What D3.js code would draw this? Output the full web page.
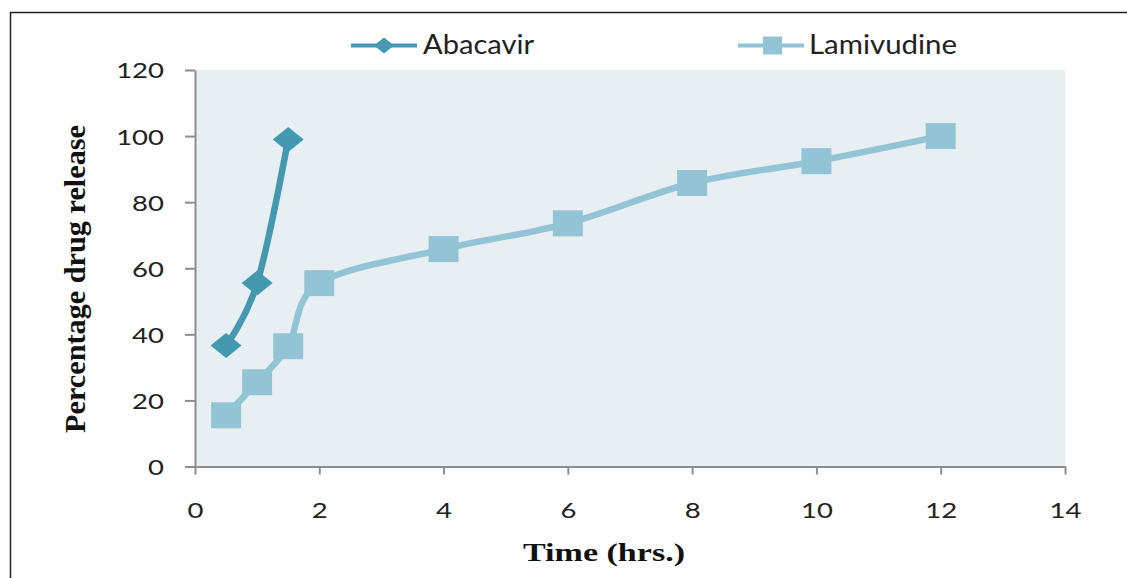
<!DOCTYPE html>
<html lang="en">
    <head>
        <title>Percentage drug release</title>
        <meta charset="utf-8">
        <script src="https://d3js.org/d3.v7.min.js"></script>
        <style>
            * {
                margin: 0;
                padding: 0;
            }
            body {
                background-color: white;
                width: 1127px;
                height: 578px;
                overflow: hidden;
            }
        </style>
    </head>
    <body>
        <main></main>
        <script>

            // values
            const abacavirTime = [0.5, 1, 1.5];
            const abacavirRelease = [36.6, 55.5, 99];

            const lamivudineTime = [0.5, 1, 1.5, 2, 4, 6, 8, 10, 12];
            const lamivudineRelease = [15.5, 25.5, 36.4, 55.5, 65.8, 73.6, 85.8, 92.4, 100];

            const xTicks = [0, 2, 4, 6, 8, 10, 12, 14];
            const yTicks = [0, 20, 40, 60, 80, 100, 120];

            const seriesNames = ["Abacavir", "Lamivudine"];

            const w = 1127;
            const h = 578;

            const darkTeal = "#4499b1";
            const lightTeal = "#93c4d6";
            const stretch = 1.25;

            const xScale = d3.scaleLinear()
                .domain([0, 14])
                .range([195, 1065]);

            const yScale = d3.scaleLinear()
                .domain([0, 120])
                .range([466.5, 70]);

            const svg = d3.select("main")
                .append("svg")
                .attr("width", w)
                .attr("height", h);

            // outer frame (top and left edges only show)
            svg.append("path")
                .attr("d", `M10.5,${h} V12.5 H${w}`)
                .attr("fill", "none")
                .attr("stroke", "#222")
                .attr("stroke-width", 1.5);

            // plot area
            svg.append("rect")
                .attr("x", xScale(0))
                .attr("y", yScale(120))
                .attr("width", xScale(14) - xScale(0))
                .attr("height", yScale(0) - yScale(120))
                .attr("fill", "#e8eff3");

            const xAxis = d3.axisBottom(xScale)
                .tickValues(xTicks)
                .tickSize(8)
                .tickSizeOuter(0);

            const gx = svg.append("g")
                .attr("transform", `translate(0, ${yScale(0)})`)
                .call(xAxis);

            const yAxis = d3.axisLeft(yScale)
                .tickValues(yTicks)
                .tickSize(10)
                .tickSizeOuter(0);

            const gy = svg.append("g")
                .attr("transform", `translate(${xScale(0)}, 0)`)
                .call(yAxis);

            [gx, gy].forEach(g => {
                g.select(".domain").attr("stroke", "#8e8e8e").attr("stroke-width", 2);
                g.selectAll(".tick line").attr("stroke", "#8e8e8e").attr("stroke-width", 2);
                g.selectAll(".tick text")
                    .attr("fill", "#222")
                    .attr("font-family", "Lato, sans-serif")
                    .attr("font-size", "22px");
            });

            gx.selectAll(".tick text")
                .attr("y", 51.5)
                .attr("dy", 0)
                .attr("transform", `scale(${stretch},1)`);

            gy.selectAll(".tick text")
                .attr("x", -31 / stretch)
                .attr("dy", "0.36em")
                .attr("transform", `scale(${stretch},1)`);

            const line = d3.line()
                .x(d => xScale(d[0]))
                .y(d => yScale(d[1]))
                .curve(d3.curveCardinal.tension(0));

            const abacavir = abacavirTime.map((t, i) => [t, abacavirRelease[i]]);
            const lamivudine = lamivudineTime.map((t, i) => [t, lamivudineRelease[i]]);

            const diamond = (cx, cy, rx, ry) =>
                `M${cx},${cy - ry} L${cx + rx},${cy} L${cx},${cy + ry} L${cx - rx},${cy} Z`;

            // Lamivudine
            svg.append("path")
                .datum(lamivudine)
                .attr("d", line)
                .attr("fill", "none")
                .attr("stroke", lightTeal)
                .attr("stroke-width", 6.5);

            svg.selectAll("rect.lami")
                .data(lamivudine)
                .enter()
                .append("rect")
                .attr("class", "lami")
                .attr("x", d => xScale(d[0]) - 15)
                .attr("y", d => yScale(d[1]) - 13)
                .attr("width", 30)
                .attr("height", 26)
                .attr("fill", lightTeal);

            // Abacavir
            svg.append("path")
                .datum(abacavir)
                .attr("d", line)
                .attr("fill", "none")
                .attr("stroke", darkTeal)
                .attr("stroke-width", 6.5);

            svg.selectAll("path.aba")
                .data(abacavir)
                .enter()
                .append("path")
                .attr("class", "aba")
                .attr("d", d => diamond(xScale(d[0]), yScale(d[1]), 15.5, 12.5))
                .attr("fill", darkTeal);

            // legend
            const legend = svg.append("g");

            legend.append("line")
                .attr("x1", 351).attr("x2", 417)
                .attr("y1", 45.5).attr("y2", 45.5)
                .attr("stroke", darkTeal)
                .attr("stroke-width", 4);
            legend.append("path")
                .attr("d", diamond(384, 45.5, 10, 8))
                .attr("fill", darkTeal);
            legend.append("text")
                .attr("x", 423)
                .attr("y", 54)
                .attr("textLength", 111)
                .attr("lengthAdjust", "spacingAndGlyphs")
                .attr("font-family", "Lato, sans-serif")
                .attr("font-size", "26px")
                .attr("fill", "#222")
                .text(seriesNames[0]);

            legend.append("line")
                .attr("x1", 738).attr("x2", 804)
                .attr("y1", 45.5).attr("y2", 45.5)
                .attr("stroke", lightTeal)
                .attr("stroke-width", 4);
            legend.append("rect")
                .attr("x", 763)
                .attr("y", 36.5)
                .attr("width", 19)
                .attr("height", 18)
                .attr("fill", lightTeal);
            legend.append("text")
                .attr("x", 809)
                .attr("y", 54)
                .attr("textLength", 148)
                .attr("lengthAdjust", "spacingAndGlyphs")
                .attr("font-family", "Lato, sans-serif")
                .attr("font-size", "26px")
                .attr("fill", "#222")
                .text(seriesNames[1]);

            // axis titles
            svg.append("text")
                .attr("x", 604)
                .attr("y", 561)
                .attr("text-anchor", "middle")
                .attr("textLength", 162)
                .attr("lengthAdjust", "spacingAndGlyphs")
                .attr("font-family", "'Liberation Serif', serif")
                .attr("font-weight", "bold")
                .attr("font-size", "26px")
                .attr("fill", "#111")
                .text("Time (hrs.)");

            svg.append("text")
                .attr("transform", "translate(85, 279) rotate(-90)")
                .attr("text-anchor", "middle")
                .attr("textLength", 308)
                .attr("lengthAdjust", "spacingAndGlyphs")
                .attr("font-family", "'Liberation Serif', serif")
                .attr("font-weight", "bold")
                .attr("font-size", "30px")
                .attr("fill", "#111")
                .text("Percentage drug release");

        </script>
    </body>
</html>
